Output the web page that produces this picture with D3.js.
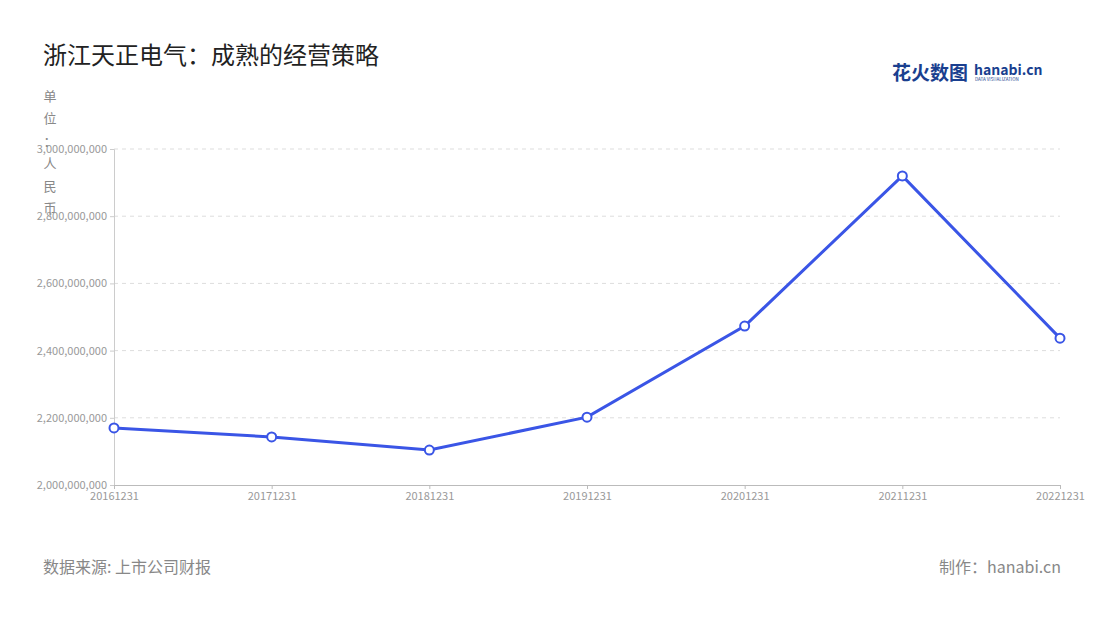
<!DOCTYPE html>
<html><head><meta charset="utf-8">
<script src="https://cdn.jsdelivr.net/npm/d3@7"></script>
<style>body{margin:0;background:#fff;font-family:"Noto Sans CJK SC","Noto Sans",sans-serif;}</style>
</head><body><svg id="c" width="1100" height="620"></svg>
<script>
const categories=["20161231","20171231","20181231","20191231","20201231","20211231","20221231"];
const values=[2170000000,2143000000,2104000000,2202000000,2473000000,2920000000,2437000000];
const yTicks=[2000000000,2200000000,2400000000,2600000000,2800000000,3000000000];
const unitChars=["单","位","：","人","民","币"];

const svg=d3.select("#c");
const font='"Noto Sans CJK SC","Noto Sans",sans-serif';
const x=d3.scalePoint().domain(categories).range([114,1060]);
const y=d3.scaleLinear().domain([2000000000,3000000000]).range([485,149]);

svg.append("text").attr("x",43).attr("y",64).attr("font-size",24).attr("fill","#222").attr("font-family",font).text("浙江天正电气：成熟的经营策略");

// logo
const lg=svg.append("g");
lg.append("text").attr("x",892).attr("y",80).attr("font-size",19).attr("font-weight","bold").attr("fill","#1a3f8f").attr("font-family",font).text("花火数图");
lg.append("text").attr("x",974).attr("y",75).attr("font-size",14).attr("font-weight","bold").attr("fill","#1a3f8f").attr("font-family",font).text("hanabi.cn");
lg.append("text").attr("x",975).attr("y",81).attr("font-size",4.5).attr("fill","#1a3f8f").attr("font-family",font).text("DATA VISUALIZATION");

// grid
svg.append("g").selectAll("line").data(yTicks.slice(1)).join("line")
 .attr("x1",114).attr("x2",1060).attr("y1",d=>y(d)).attr("y2",d=>y(d))
 .attr("stroke","#ddd").attr("stroke-dasharray","4,4");

const ya=svg.append("g").attr("transform","translate(114,0)").call(d3.axisLeft(y).tickValues(yTicks).tickFormat(d3.format(",")).tickSize(4));
ya.select(".domain").attr("stroke","#ccc");ya.selectAll("line").attr("stroke","#ccc");
ya.selectAll("text").attr("fill","#999").attr("font-size",11).attr("font-family",font);

const xa=svg.append("g").attr("transform","translate(0,485)").call(d3.axisBottom(x).tickSize(4));
xa.select(".domain").attr("stroke","#bbb");xa.selectAll("line").attr("stroke","#bbb");
xa.selectAll("text").attr("fill","#999").attr("font-size",11).attr("font-family",font);

svg.append("g").selectAll("text").data(unitChars).join("text")
 .attr("x",50).attr("y",(d,i)=>101+i*22.4).attr("text-anchor","middle").attr("font-size",13).attr("fill","#888").attr("font-family",font).text(d=>d);

svg.append("path").datum(values).attr("fill","none").attr("stroke","#3a55e6").attr("stroke-width",3)
 .attr("d",d3.line().x((d,i)=>x(categories[i])).y(d=>y(d)));
svg.append("g").selectAll("circle").data(values).join("circle")
 .attr("cx",(d,i)=>x(categories[i])).attr("cy",d=>y(d)).attr("r",4.5).attr("fill","#fff").attr("stroke","#3a55e6").attr("stroke-width",2);

svg.append("text").attr("x",43).attr("y",573).attr("font-size",16).attr("fill","#888").attr("font-family",font).text("数据来源: 上市公司财报");
svg.append("text").attr("x",1061).attr("y",573).attr("text-anchor","end").attr("font-size",16).attr("fill","#888").attr("font-family",font).text("制作：hanabi.cn");
</script></body></html>
